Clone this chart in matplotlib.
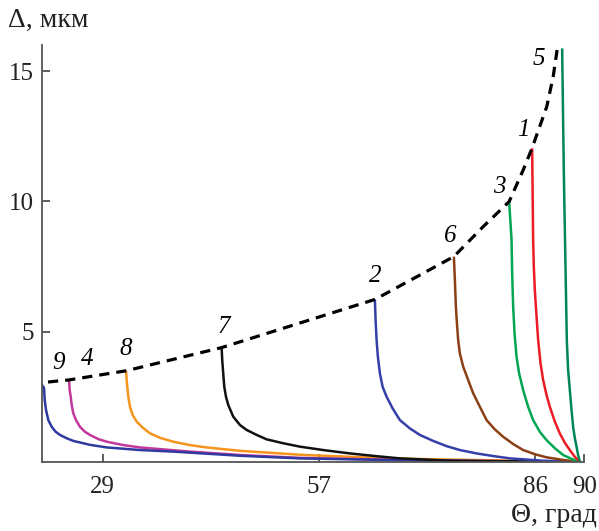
import matplotlib.pyplot as plt

# угол в радианах (ось размечена в градусах), Δ в мкм
x9 = [0.355, 0.3643, 0.3659, 0.3689, 0.3742, 0.3821, 0.3913, 0.4013, 0.4168, 0.432, 0.4706,
      0.5092, 0.5862, 0.6632, 0.8175, 0.956, 1.187, 1.40, 1.604]
y9 = [3.05, 2.85, 2.38, 2.00, 1.61, 1.35, 1.16, 1.04, 0.91, 0.81, 0.66,
      0.56, 0.46, 0.40, 0.24, 0.14, 0.07, 0.03, 0.0]

x4 = [0.4221, 0.4237, 0.426, 0.4283, 0.432, 0.4383, 0.4475, 0.4591, 0.4706, 0.4898, 0.5092,
      0.5476, 0.5862, 0.7018, 0.8175, 0.956, 1.187, 1.40, 1.604]
y4 = [3.15, 2.76, 2.51, 2.19, 1.87, 1.61, 1.35, 1.16, 1.04, 0.88, 0.78,
      0.65, 0.56, 0.40, 0.27, 0.16, 0.08, 0.04, 0.0]

x8 = [0.5539, 0.5555, 0.5569, 0.5592, 0.5631, 0.5694, 0.5786, 0.5925, 0.6094, 0.6325, 0.6632,
      0.7018, 0.7405, 0.8175, 0.956, 1.072, 1.187, 1.419, 1.604]
y8 = [3.50, 3.15, 2.89, 2.51, 2.12, 1.80, 1.55, 1.32, 1.10, 0.93, 0.78,
      0.65, 0.56, 0.43, 0.28, 0.20, 0.13, 0.06, 0.0]

x7 = [0.7751, 0.7765, 0.7788, 0.7812, 0.7851, 0.7904, 0.802, 0.8175, 0.833, 0.8561, 0.8792,
      0.9176, 0.9562, 1.014, 1.0718, 1.1296, 1.1874, 1.303, 1.604]
y7 = [4.39, 3.91, 3.40, 2.89, 2.51, 2.19, 1.74, 1.42, 1.23, 1.04, 0.87,
      0.72, 0.59, 0.45, 0.33, 0.23, 0.14, 0.05, 0.0]

x2 = [1.1296, 1.1312, 1.1335, 1.1365, 1.1412, 1.1474, 1.1566, 1.1705, 1.1874, 1.2105, 1.2336,
      1.2644, 1.2954, 1.3261, 1.3647, 1.4031, 1.4417, 1.5187, 1.604]
y2 = [6.24, 5.45, 4.68, 4.04, 3.40, 2.89, 2.51, 2.06, 1.61, 1.29, 1.04,
      0.81, 0.61, 0.46, 0.33, 0.23, 0.14, 0.05, 0.0]

x6 = [1.3123, 1.3146, 1.3169, 1.3199, 1.3222, 1.3261, 1.3338, 1.3453, 1.3569, 1.3724, 1.3879,
      1.4071, 1.4262, 1.4494, 1.4725, 1.4995, 1.5266, 1.565, 1.604]
y6 = [7.88, 6.98, 5.96, 5.19, 4.68, 4.17, 3.66, 3.15, 2.64, 2.12, 1.61,
      1.25, 0.97, 0.69, 0.46, 0.30, 0.18, 0.08, 0.0]

x3 = [1.4401, 1.4457, 1.4471, 1.4494, 1.4526, 1.4572, 1.4632, 1.4725, 1.484, 1.4956, 1.5111,
      1.5266, 1.5458, 1.565, 1.5844, 1.604]
y3 = [9.99, 8.52, 7.24, 5.96, 4.94, 4.04, 3.40, 2.76, 2.12, 1.61, 1.16,
      0.84, 0.53, 0.27, 0.12, 0.0]

x1 = [1.4933, 1.4956, 1.4972, 1.4995, 1.5035, 1.5072, 1.5127, 1.5187, 1.5266, 1.5342, 1.5458,
      1.5573, 1.5689, 1.5804, 1.592, 1.604]
y1 = [12.04, 8.52, 7.49, 6.60, 5.58, 4.68, 3.79, 3.15, 2.57, 2.12, 1.55,
      1.10, 0.74, 0.46, 0.20, 0.0]

x5 = [1.5627, 1.5666, 1.5712, 1.5735, 1.5765, 1.5805, 1.5844, 1.5881, 1.592, 1.596, 1.5996, 1.604]
y5 = [15.87, 11.09, 6.80, 4.68, 3.53, 2.76, 2.00, 1.35, 0.92, 0.59, 0.27, 0.0]

# огибающая максимумов (пунктир)
env_x = [0.3735, 0.422, 0.554, 0.775, 1.130, 1.312, 1.380, 1.440, 1.4725, 1.493, 1.527, 1.542, 1.551]
env_y = [3.07, 3.15, 3.50, 4.39, 6.24, 7.88, 9.03, 9.99, 11.2, 12.04, 13.63, 14.79, 15.81]

curves = [
    ('8', x8, y8, '#f7941d'),
    ('4', x4, y4, '#c2399b'),
    ('9', x9, y9, '#2e3a9f'),
    ('7', x7, y7, '#111111'),
    ('2', x2, y2, '#3440a8'),
    ('6', x6, y6, '#8b3f14'),
    ('3', x3, y3, '#00a651'),
    ('1', x1, y1, '#ed1c24'),
    ('5', x5, y5, '#00855a'),
]

# подписи кривых
lbl_names = ['9', '4', '8', '7', '2', '6', '3', '1', '5']
lbl_x = [0.397, 0.463, 0.554, 0.7805, 1.131, 1.303, 1.417, 1.4725, 1.5095]
lbl_y = [3.79, 3.94, 4.32, 5.17, 7.14, 8.67, 10.56, 12.74, 15.45]

tick_pos = [0.5, 1.0, 1.5, 1.614]
tick_lbl = ['29', '57', '86', '90']

plt.rcParams['font.family'] = ['Liberation Serif', 'DejaVu Serif']

fig = plt.figure(figsize=(5.99, 5.31), dpi=100)
ax = fig.add_axes([0.0706, 0.1299, 0.9049, 0.7853])

for name, xs, ys, c in curves:
    ax.plot(xs, ys, color=c, lw=1.8, solid_capstyle='butt', solid_joinstyle='round')

ax.plot(env_x, env_y, color='black', lw=2.3, linestyle=(0, (3.2, 2.2)))

for t, lx, ly in zip(lbl_names, lbl_x, lbl_y):
    ax.text(lx, ly, t, fontsize=18, fontstyle='italic', ha='center', va='center')

ax.set_xlim(0.3603, 1.614)
ax.set_ylim(0, 16)
ax.set_xticks(tick_pos)
ax.set_xticklabels(tick_lbl)
ax.set_yticks([5, 10, 15])

for s in ['top', 'right']:
    ax.spines[s].set_visible(False)
for s in ['left', 'bottom']:
    ax.spines[s].set_color('#555555')
    ax.spines[s].set_linewidth(1.3)

ax.tick_params(direction='in', length=6, width=1.1, color='#333333',
               labelsize=18, labelcolor='#222222')
ax.tick_params(axis='x', pad=10)
ax.tick_params(axis='y', pad=6)

fig.text(0.013, 0.962, 'Δ, мкм', fontsize=20, color='#222222', ha='left', va='center')
fig.text(0.997, 0.030, 'Θ, град', fontsize=20, color='#222222', ha='right', va='center')

fig.savefig('out.png', dpi=100)
